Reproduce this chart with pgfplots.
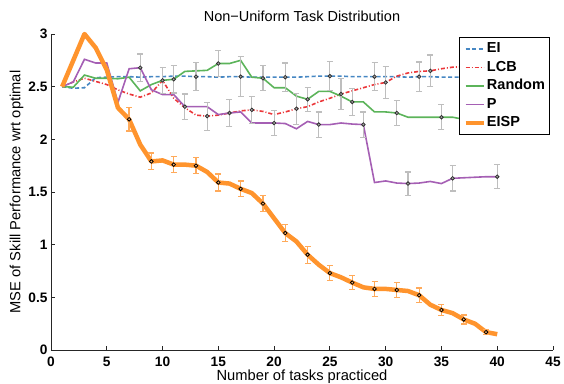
\documentclass[border=0pt]{standalone}
\usepackage{pgfplots}
\pgfplotsset{compat=1.18}
\usepackage{fontspec}
\setmainfont{Liberation Sans}
\definecolor{cEI}{RGB}{70,135,195}
\definecolor{cLCB}{RGB}{235,55,58}
\definecolor{cRand}{RGB}{92,180,90}
\definecolor{cP}{RGB}{165,95,180}
\definecolor{cEISP}{RGB}{255,148,45}
\definecolor{cBar}{RGB}{190,190,190}
\definecolor{cOBar}{RGB}{255,170,90}
\begin{document}
\begin{tikzpicture}
\useasboundingbox (-51pt,-33pt) rectangle (513pt,350pt);
\begin{axis}[
  at={(0pt,0pt)}, anchor=south west,
  scale only axis, width=502pt, height=316pt,
  xmin=0, xmax=45, ymin=0, ymax=3,
  clip=false,
  axis lines*=left,
  axis line style={line width=0.8pt, black!85},
  tick align=inside, major tick length=4pt,
  tick style={line width=0.8pt, black!85},
  xtick={0,5,10,15,20,25,30,35,40,45},
  ytick={0,0.5,1,1.5,2,2.5,3},
  /pgf/number format/assume math mode=true,
  ticklabel style={font=\bfseries\fontsize{13.7}{16}\selectfont},
  xticklabel style={yshift=-3.5pt},
  title={Non−Uniform Task Distribution},
  title style={font=\fontsize{14.5}{17}\selectfont, at={(axis description cs:0.5,1)}, anchor=base, yshift=6pt},
  xlabel={Number of tasks practiced},
  xlabel style={font=\fontsize{14.7}{17}\selectfont, at={(axis description cs:0.5,0)}, anchor=base, yshift=-30.5pt},
  ylabel={MSE of Skill Performance wrt optimal},
  ylabel style={font=\fontsize{14.7}{17}\selectfont, at={(axis description cs:0,0.5)}, anchor=center, yshift=34.5pt},
  legend style={at={(0.994,0.9915)}, anchor=north east, draw=black, line width=1pt, fill=white,
    inner sep=3.5pt, row sep=2pt,
    font=\bfseries\fontsize{14.5}{17}\selectfont,
    nodes={inner sep=1pt, text height=11pt, text depth=3.5pt}},
  legend cell align=left,
  legend image code/.code={\draw[#1] (0pt,0pt) -- (18pt,0pt);},
]
% EI
\addplot[cEI, line width=1.6pt, dash pattern=on 4pt off 2.5pt] coordinates {
(1,2.50)(2,2.485)(3,2.49)(4,2.585)(5,2.59)(6,2.595)(7,2.595)(8,2.59)(9,2.595)(10,2.595)
(11,2.60)(12,2.60)(13,2.595)(14,2.595)(15,2.59)(16,2.595)(17,2.595)(18,2.59)(19,2.59)(20,2.59)
(21,2.59)(22,2.59)(23,2.595)(24,2.60)(25,2.60)(26,2.60)(27,2.595)(28,2.595)(29,2.595)(30,2.595)
(31,2.595)(32,2.59)(33,2.595)(34,2.595)(35,2.59)(36,2.59)(37,2.59)(38,2.59)(39,2.59)(40,2.59)};
\addlegendentry{EI}
% LCB
\addplot[cLCB, line width=1.6pt, dash pattern=on 4pt off 2pt on 1pt off 2pt] coordinates {
(1,2.50)(2,2.545)(3,2.58)(4,2.55)(5,2.52)(6,2.47)(7,2.43)(8,2.40)(9,2.44)(10,2.56)
(11,2.39)(12,2.30)(13,2.23)(14,2.22)(15,2.23)(16,2.25)(17,2.27)(18,2.28)(19,2.265)(20,2.235)
(21,2.26)(22,2.29)(23,2.31)(24,2.355)(25,2.39)(26,2.43)(27,2.46)(28,2.49)(29,2.52)(30,2.54)
(31,2.60)(32,2.63)(33,2.645)(34,2.65)(35,2.67)(36,2.685)(37,2.69)(38,2.70)(39,2.70)(40,2.71)};
\addlegendentry{LCB}
% Random
\addplot[cRand, line width=1.6pt] coordinates {
(1,2.50)(2,2.495)(3,2.61)(4,2.58)(5,2.58)(6,2.575)(7,2.59)(8,2.46)(9,2.52)(10,2.56)
(11,2.57)(12,2.645)(13,2.65)(14,2.655)(15,2.72)(16,2.72)(17,2.75)(18,2.59)(19,2.58)(20,2.49)
(21,2.49)(22,2.41)(23,2.38)(24,2.455)(25,2.455)(26,2.41)(27,2.355)(28,2.355)(29,2.26)(30,2.26)
(31,2.25)(32,2.21)(33,2.21)(34,2.21)(35,2.21)(36,2.21)(37,2.19)(38,2.19)(39,2.19)(40,2.19)};
\addlegendentry{Random}
% P
\addplot[cP, line width=1.6pt] coordinates {
(1,2.50)(2,2.545)(3,2.76)(4,2.725)(5,2.725)(6,2.35)(7,2.67)(8,2.68)(9,2.47)(10,2.425)
(11,2.425)(12,2.31)(13,2.31)(14,2.31)(15,2.235)(16,2.25)(17,2.26)(18,2.155)(19,2.155)(20,2.155)
(21,2.15)(22,2.10)(23,2.17)(24,2.14)(25,2.14)(26,2.155)(27,2.145)(28,2.14)(29,1.59)(30,1.605)
(31,1.585)(32,1.58)(33,1.585)(34,1.60)(35,1.58)(36,1.63)(37,1.635)(38,1.64)(39,1.645)(40,1.645)};
\addlegendentry{P}
% EISP
\addplot[cEISP, line width=4.5pt, line join=round] coordinates {
(1,2.50)(2,2.75)(3,3.00)(4,2.87)(5,2.66)(6,2.30)(7,2.19)(8,1.95)(9,1.79)(10,1.80)
(11,1.76)(12,1.76)(13,1.75)(14,1.69)(15,1.59)(16,1.58)(17,1.53)(18,1.49)(19,1.39)(20,1.25)
(21,1.11)(22,1.03)(23,0.905)(24,0.81)(25,0.73)(26,0.69)(27,0.64)(28,0.595)(29,0.58)(30,0.58)
(31,0.57)(32,0.56)(33,0.52)(34,0.43)(35,0.38)(36,0.35)(37,0.29)(38,0.25)(39,0.17)(40,0.15)};
\addlegendentry{EISP}
% error bars
\pgfplotsset{gbar/.style={forget plot, only marks, mark=*, mark size=1.8pt,
  mark options={fill=black!35, draw=black!80, line width=0.8pt, solid},
  error bars/.cd, y dir=both, y explicit,
  error bar style={cBar, line width=1.2pt},
  error mark options={rotate=90, cBar, mark size=3pt, line width=1.2pt}}}
\addplot[gbar] coordinates {(13,2.595)+-(0,0.135)(17,2.595)+-(0,0.19)(21,2.59)+-(0,0.135)(25,2.60)+-(0,0.14)(29,2.595)+-(0,0.135)(33,2.595)+-(0,0.14)};
\addplot[gbar] coordinates {(10,2.56)+-(0,0.125)(14,2.22)+-(0,0.133)(18,2.28)+-(0,0.127)(22,2.29)+-(0,0.147)(26,2.43)+-(0,0.15)(30,2.54)+-(0,0.15)(34,2.65)+-(0,0.15)};
\addplot[gbar] coordinates {(11,2.57)+-(0,0.13)(15,2.72)+-(0,0.12)(19,2.58)+-(0,0.12)(23,2.38)+-(0,0.115)(27,2.355)+-(0,0.125)(31,2.25)+-(0,0.12)(35,2.21)+-(0,0.12)};
\addplot[gbar] coordinates {(8,2.68)+-(0,0.13)(12,2.31)+-(0,0.12)(16,2.25)+-(0,0.127)(20,2.155)+-(0,0.117)(24,2.14)+-(0,0.12)(28,2.14)+-(0,0.12)(32,1.58)+-(0,0.11)(36,1.63)+-(0,0.12)(40,1.645)+-(0,0.115)};
\addplot[forget plot, only marks, mark=*, mark size=1.8pt,
  mark options={fill=cEISP!70, draw=black, line width=0.8pt, solid},
  error bars/.cd, y dir=both, y explicit,
  error bar style={cOBar, line width=1.2pt},
  error mark options={rotate=90, cOBar, mark size=3pt, line width=1.2pt}] coordinates {
(7,2.19)+-(0,0.11)(9,1.79)+-(0,0.08)(11,1.76)+-(0,0.075)(13,1.75)+-(0,0.077)(15,1.59)+-(0,0.08)
(17,1.53)+-(0,0.075)(19,1.39)+-(0,0.076)(21,1.11)+-(0,0.08)(23,0.905)+-(0,0.08)(25,0.73)+-(0,0.07)
(27,0.64)+-(0,0.068)(29,0.58)+-(0,0.07)(31,0.57)+-(0,0.07)(33,0.52)+-(0,0.068)(35,0.38)+-(0,0.052)
(37,0.29)+-(0,0.043)(39,0.17)+-(0,0.025)};
\end{axis}
\end{tikzpicture}
\end{document}
